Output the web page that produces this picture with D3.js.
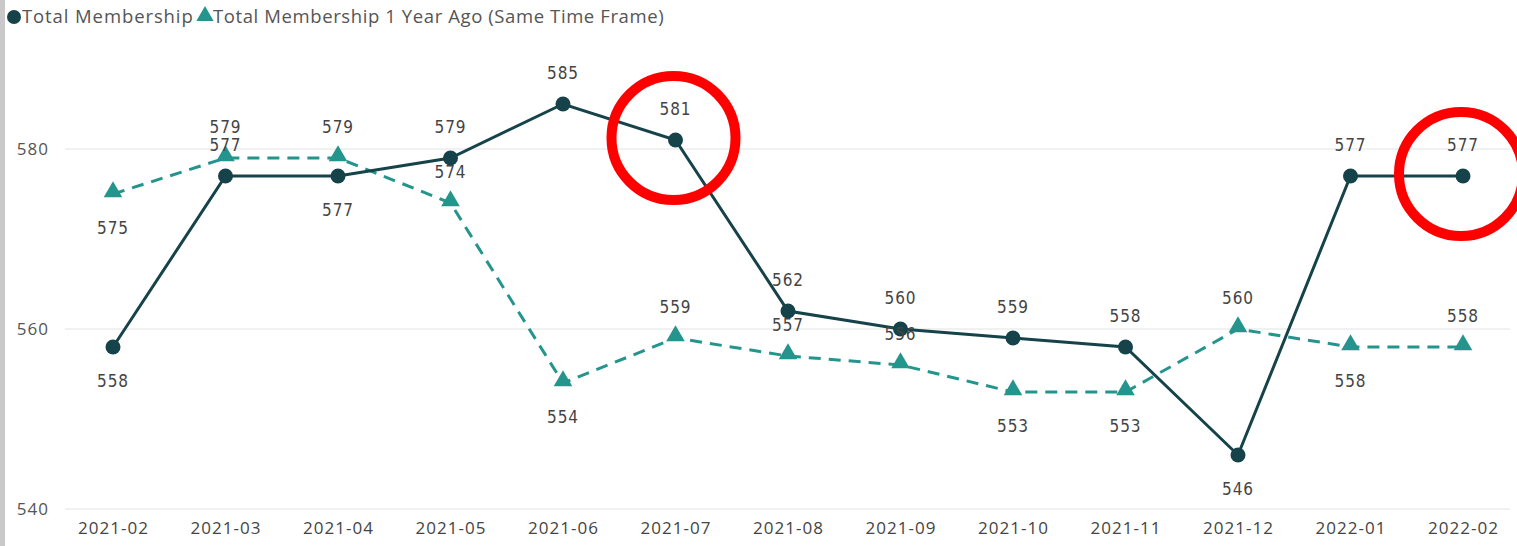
<!DOCTYPE html>
<html><head><meta charset="utf-8">
<script src="https://cdn.jsdelivr.net/npm/d3@7"></script>
<style>
html,body{margin:0;padding:0;background:#fff;}
svg{display:block;}
</style></head>
<body>
<svg id="chart" width="1517" height="546"></svg>
<script>
const months = ["2021-02","2021-03","2021-04","2021-05","2021-06","2021-07","2021-08","2021-09","2021-10","2021-11","2021-12","2022-01","2022-02"];
const totalMembership = [558,577,577,579,585,581,562,560,559,558,546,577,577];
const totalMembershipYearAgo = [575,579,579,574,554,559,557,556,553,553,560,558,558];
const totalLabelSide = ["below","above","below","above","above","above","above","above","above","above","below","above","above"];
const agoLabelSide = ["below","above","above","above","below","above","above","above","below","below","above","below","above"];
const yTicks = [540,560,580];
const highlighted = ["2021-07","2022-02"];
const seriesNames = ["Total Membership","Total Membership 1 Year Ago (Same Time Frame)"];

const W = 1517, H = 546;
const svg = d3.select("#chart");
const darkC = "#16434a", tealC = "#24958c";
const fontF = "'Open Sans', 'Noto Sans', sans-serif";
const labelF = "'DejaVu Sans Condensed', 'DejaVu Sans', sans-serif";

// left gray border
svg.append("rect").attr("x",0).attr("y",0).attr("width",5).attr("height",H).attr("fill","#c9c9c9");

const x = d3.scalePoint().domain(months).range([113,1463]);
const y = d3.scaleLinear().domain([540,580]).range([509,149]);

// gridlines
const grid = svg.append("g");
grid.selectAll("line").data(yTicks).join("line")
  .attr("x1",65).attr("x2",1510)
  .attr("y1",d=>y(d)).attr("y2",d=>y(d))
  .attr("stroke","#ececec").attr("stroke-width",1.5);

// y axis
const yAxis = d3.axisLeft(y).tickValues(yTicks).tickSize(0).tickPadding(0);
const gy = svg.append("g").attr("transform","translate(49,0)").call(yAxis);
gy.select(".domain").remove();
gy.selectAll("text").attr("font-family",fontF).attr("font-size",17).attr("fill","#555").attr("dy","0.35em").attr("letter-spacing","1px");

// x axis
const xAxis = d3.axisBottom(x).tickSize(0).tickPadding(0);
const gx = svg.append("g").attr("transform","translate(0,522)").call(xAxis);
gx.select(".domain").remove();
gx.selectAll("text").attr("font-family",fontF).attr("font-size",17).attr("fill","#444").attr("dy","0.71em").attr("letter-spacing","1px");

const totalData = months.map((m,i)=>({m, v: totalMembership[i], side: totalLabelSide[i]}));
const agoData = months.map((m,i)=>({m, v: totalMembershipYearAgo[i], side: agoLabelSide[i]}));
const line = d3.line().x(d=>x(d.m)).y(d=>y(d.v));

// year-ago dashed line
svg.append("path").datum(agoData).attr("d",line)
  .attr("fill","none").attr("stroke",tealC).attr("stroke-width",3)
  .attr("stroke-dasharray","12,8");
const tri = d3.symbol().type(d3.symbolTriangle).size(150);
svg.append("g").selectAll("path").data(agoData).join("path")
  .attr("d",tri).attr("transform",d=>`translate(${x(d.m)},${y(d.v)-2})`).attr("fill",tealC);

// total line
svg.append("path").datum(totalData).attr("d",line)
  .attr("fill","none").attr("stroke",darkC).attr("stroke-width",3);
svg.append("g").selectAll("circle").data(totalData).join("circle")
  .attr("cx",d=>x(d.m)).attr("cy",d=>y(d.v)).attr("r",7.5).attr("fill",darkC);

// labels
function labels(data){
  svg.append("g").selectAll("text").data(data).join("text")
    .attr("x",d=>x(d.m))
    .attr("y",d=>y(d.v) + (d.side==="above" ? -31 : 34))
    .attr("dy","0.35em")
    .attr("text-anchor","middle")
    .attr("font-family",labelF).attr("font-size",17).attr("fill","#444")
    .attr("letter-spacing","1px")
    .text(d=>d.v);
}
labels(agoData);
labels(totalData);

// red highlight circles
svg.append("g").selectAll("circle").data(highlighted).join("circle")
  .attr("cx",d=>x(d)-2)
  .attr("cy",d=>y(totalMembership[months.indexOf(d)])-2)
  .attr("r",62).attr("fill","none").attr("stroke","#ff0000").attr("stroke-width",10);

// legend
const lg = svg.append("g");
lg.append("circle").attr("cx",14).attr("cy",17).attr("r",7).attr("fill",darkC);
lg.append("text").attr("x",22).attr("y",17).attr("dy","0.35em")
  .attr("font-family",fontF).attr("font-size",18.5).attr("letter-spacing","0.9px").attr("fill","#555").text(seriesNames[0]);
lg.append("path").attr("d",d3.symbol().type(d3.symbolTriangle).size(130))
  .attr("transform","translate(205,16)").attr("fill",tealC);
lg.append("text").attr("x",213).attr("y",17).attr("dy","0.35em")
  .attr("font-family",fontF).attr("font-size",18.5).attr("letter-spacing","0.6px").attr("fill","#555").text(seriesNames[1]);
</script>
</body></html>
